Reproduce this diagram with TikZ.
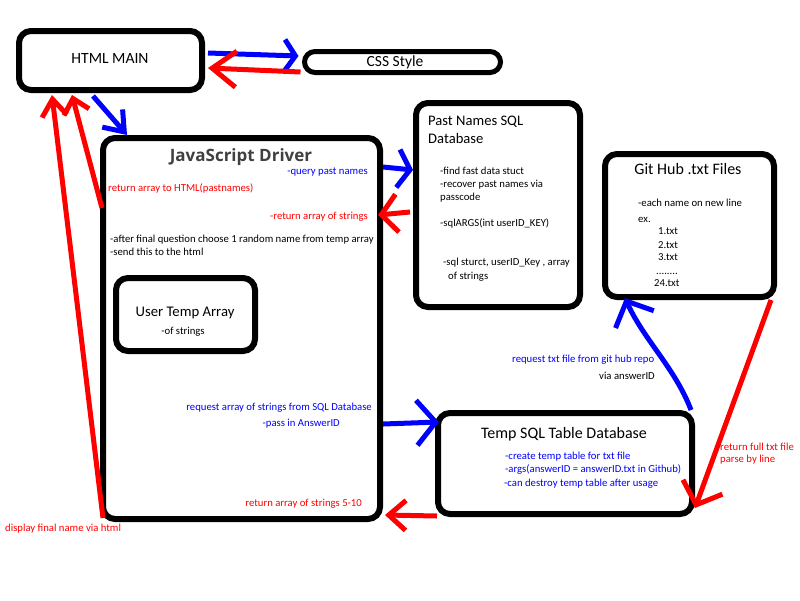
\documentclass[tikz,border=0pt]{standalone}
\usepackage{fontspec}
\setmainfont{Carlito}
\newfontfamily\headfont{Open Sans}
\usetikzlibrary{arrows.meta,calc}
\definecolor{lnblue}{RGB}{0,0,255}
\definecolor{lnred}{RGB}{255,0,0}
\definecolor{headgray}{RGB}{64,64,64}
\begin{document}
\begin{tikzpicture}[x=1pt,y=-1pt,
  box/.style={draw=black,line width=6pt,rounded corners=12pt,inner sep=0pt,fill=white},
  txt/.style={inner sep=0pt,font=\fontsize{10.7}{12}\selectfont,text height=7.8pt,text depth=2.2pt},
  ttl/.style={inner sep=0pt,font=\fontsize{#1}{#1}\selectfont,text height=0.7*#1pt,text depth=0.2*#1pt},
  conn/.style={line width=5pt},
  bconn/.style={conn,draw=lnblue},
  rconn/.style={conn,draw=lnred},
  barb/.style 2 args={-{Straight Barb[length=#1pt,width=#2pt]}},
]
\fill[white] (0,0) rectangle (800,600);
\useasboundingbox (0,0) rectangle (800,600);

% ---- boxes ----
\node[box,minimum width=183pt,minimum height=59pt] (html) at (110.5,60.5) {};
\node[box,line width=5pt,rounded corners=10.5pt,minimum width=196pt,minimum height=21pt] (css) at (402.5,62) {};
\node[box,minimum width=277pt,minimum height=381pt] (js) at (241.5,328.5) {};
\node[box,minimum width=164pt,minimum height=204pt] (past) at (498,205) {};
\node[box,minimum width=169pt,minimum height=143pt] (git) at (689.5,225.5) {};
\node[box,minimum width=139pt,minimum height=73pt] (user) at (185.5,314.5) {};
\node[box,minimum width=254pt,minimum height=101pt] (temp) at (565,463.5) {};

% ---- box titles ----
\node[ttl=15.6] (htmlT) at (110,60) {HTML MAIN};
\node[ttl=15.5] (cssT) at (395,63) {CSS Style};
\node[inner sep=0pt,font=\headfont\bfseries\fontsize{17}{19}\selectfont,text=headgray,text height=12pt,text depth=3.5pt] (jsT) at (241,157) {JavaScript Driver};
\node[ttl=14.7] (userT) at (185,313) {User Temp Array};
\node[txt] (userS) at (183,332) {-of strings};
\node[ttl=14.6,anchor=west] (pastT1) at (428,122) {Past Names SQL};
\node[ttl=14.6,anchor=west] (pastT2) at (428,140) {Database};
\node[ttl=16] (gitT) at (688,170) {Git Hub .txt Files};
\node[ttl=16] (tempT) at (564,434) {Temp SQL Table Database};

% ---- JavaScript Driver notes ----
\node[txt,anchor=east,text=lnblue] (jq) at (368,172) {-query past names};
\node[txt,anchor=west,text=lnred] (jr) at (108,189) {return array to HTML(pastnames)};
\node[txt,anchor=east,text=lnred] (js1) at (368,217) {-return array of strings};
\node[txt,anchor=west] (ja) at (110,240) {-after final question choose 1 random name from temp array};
\node[txt,anchor=west] (jb) at (110,253) {-send this to the html};
\node[txt,anchor=east,text=lnblue] (jc) at (372,408) {request array of strings from SQL Database};
\node[txt,anchor=east,text=lnblue] (jd) at (340,424) {-pass in AnswerID};
\node[txt,anchor=east,text=lnred] (je) at (362,504) {return array of strings 5-10};
\node[txt,anchor=west,text=lnred] (jf) at (5,529) {display final name via html};

% ---- Past Names notes ----
\node[txt,anchor=west] (p1) at (440,172) {-find fast data stuct};
\node[txt,anchor=west] (p2) at (440,185) {-recover past names via};
\node[txt,anchor=west] (p3) at (440,198) {passcode};
\node[txt,anchor=west] (p4) at (440,224) {-sqlARGS(int userID\_KEY)};
\node[txt,anchor=west] (p5) at (443,263) {-sql sturct, userID\_Key , array};
\node[txt,anchor=west] (p6) at (448,277) {of strings};

% ---- Git Hub notes ----
\node[txt,anchor=west] (g1) at (638,204) {-each name on new line};
\node[txt,anchor=west] (g2) at (638,220) {ex.};
\node[txt,anchor=west] (g3) at (658,232) {1.txt};
\node[txt,anchor=west] (g4) at (658,246) {2.txt};
\node[txt,anchor=west] (g5) at (658,258) {3.txt};
\node[txt,anchor=west] (g6) at (656,272) {........};
\node[txt,anchor=west] (g7) at (654,284) {24.txt};

% ---- Temp SQL notes ----
\node[txt,anchor=west,text=lnblue] (t1) at (505,457) {-create temp table for txt file};
\node[txt,anchor=west,text=lnblue] (t2) at (505,470) {-args(answerID = answerID.txt in Github)};
\node[txt,anchor=west,text=lnblue] (t3) at (504,484) {-can destroy temp table after usage};

% ---- labels between boxes ----
\node[txt,anchor=west,text=lnblue] (rq) at (512,360) {request txt file from git hub repo};
\node[txt,anchor=east] (va) at (655,377) {via answerID};
\node[txt,anchor=west,text=lnred] (rf1) at (720,448) {return full txt file};
\node[txt,anchor=west,text=lnred] (rf2) at (720,460) {parse by line};

% ---- connectors ----
\draw[bconn,barb={11}{32}] ($(html.east)+(3,-7.5)$) -- ($(css.west)+(-3.5,-6)$);
\draw[rconn,barb={24}{36}] ($(css.west)+(-1.5,10)$) -- ($(html.east)+(3,7.5)$);
\draw[bconn,barb={18}{27}] ($(html.south)+(-17.5,3)$) -- ($(js.north west)+(27,0)$);
\draw[rconn,barb={14}{26}] ($(js.west)+(2,-120.5)$) -- ($(html.south)+(-38.5,2)$);
\draw[rconn,barb={17}{25}] ($(js.south west)+(3,-4)$) -- ($(html.south)+(-58.5,2)$);
\draw[bconn,barb={12}{38}] ($(js.north east)+(0,32)$) -- ($(past.west)+(0,-35)$);
\draw[rconn,barb={16}{38}] ($(past.west)+(-3,7)$) -- ($(js.north east)+(-5,80)$);
\draw[bconn,barb={19}{45}] ($(js.east)+(0,95.5)$) -- ($(temp.north west)+(4,12)$);
\draw[rconn,barb={17}{30}] ($(temp.south west)+(2,-1)$) -- ($(js.south east)+(2,-7)$);
\draw[bconn,barb={20}{42}] ($(temp.north east)+(-4,0)$) .. controls ($(temp.north east)+(-20,-42)$) and ($(git.south west)+(42,40)$) .. ($(git.south west)+(23,-2)$);
\draw[rconn,barb={19}{42}] ($(git.south east)+(-6,0)$) -- ($(temp.south east)+(0,-9)$);
\end{tikzpicture}
\end{document}
